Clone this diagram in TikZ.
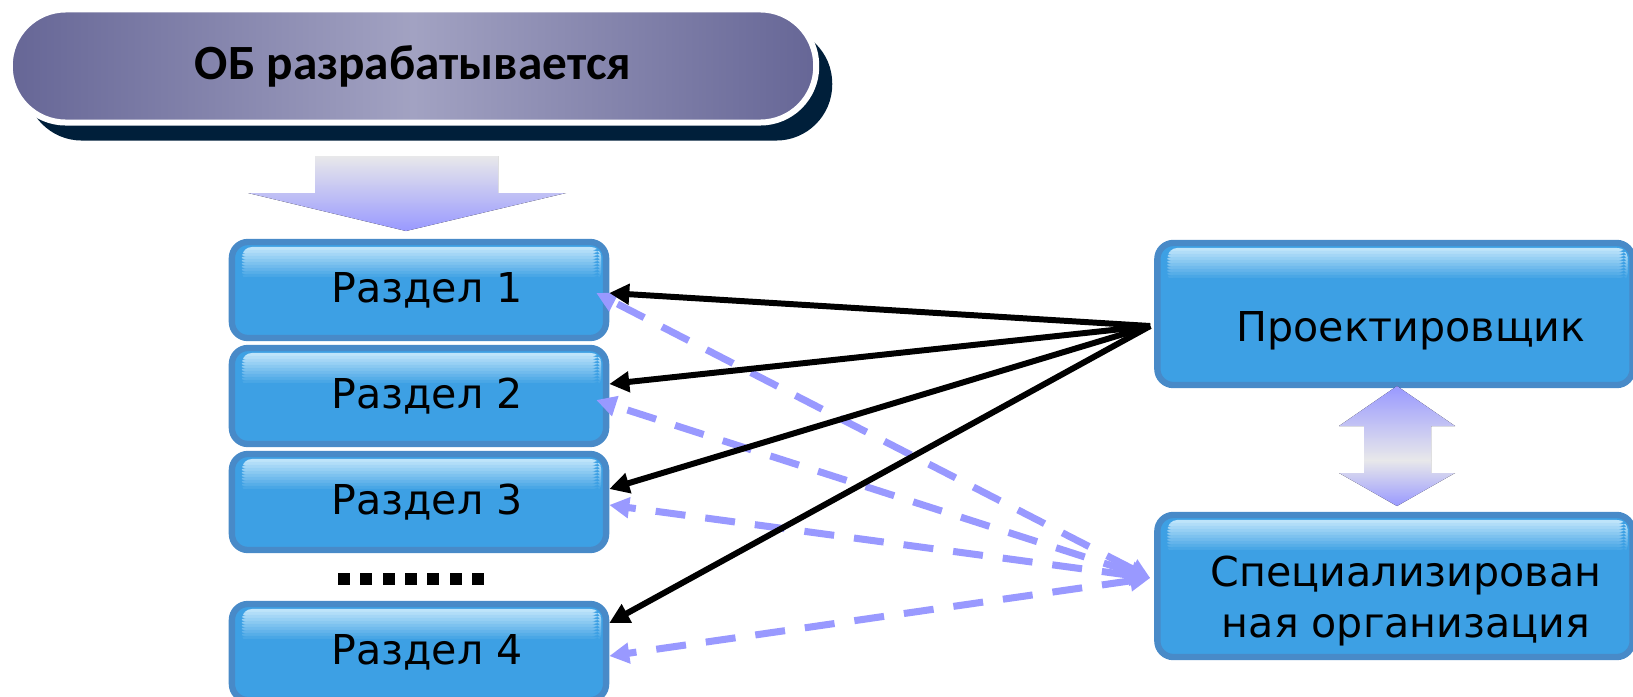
\documentclass[tikz,border=0pt]{standalone}
\usepackage{fontspec}
\setmainfont{DejaVu Sans}
\newfontfamily\titlefont{Carlito}
\usetikzlibrary{arrows.meta}
\usetikzlibrary{shadows}

\definecolor{boxblue}{RGB}{61,160,228}
\definecolor{boxedge}{RGB}{72,138,200}
\definecolor{boxlight}{RGB}{190,228,250}
\definecolor{lavender}{RGB}{153,153,255}
\definecolor{arrowgray}{RGB}{232,232,234}
\definecolor{pillside}{RGB}{102,102,150}
\definecolor{pillmid}{RGB}{162,162,194}
\definecolor{navy}{RGB}{0,31,58}

\begin{document}
\begin{tikzpicture}[x=0.01cm,y=-0.01cm,
    bluebox/.style={draw=boxedge,line width=1.8pt,fill=boxblue,rounded corners=0.16cm,
        font=\fontsize{11.7}{14.5}\selectfont,
        path picture={
            % glossy band at the top, fading into the box colour
            \begin{scope}
                \clip[rounded corners=0.1cm]
                    ([xshift=0.1cm,yshift=-0.05cm]path picture bounding box.north west) rectangle
                    ([xshift=-0.05cm,yshift=-0.4cm]path picture bounding box.north east);
                \foreach \k in {0,...,10}
                    \fill[boxblue!\k0!boxlight]
                        ([yshift={-0.05cm-\k*0.03cm}]path picture bounding box.north west) rectangle
                        ([yshift={-0.085cm-\k*0.03cm}]path picture bounding box.north east);
            \end{scope}
        }},
    razdel/.style={bluebox,minimum width=3.74cm,minimum height=0.96cm},
    actor/.style={bluebox,minimum width=4.75cm,minimum height=1.42cm},
    label/.style={font=\fontsize{11.7}{14.5}\selectfont,align=center},
    solidarrow/.style={-{Triangle[length=0.2cm,width=0.2cm]},line width=1.7pt},
    dasharrow/.style={{Triangle[length=0.2cm,width=0.2cm]}-{Triangle[length=0.2cm,width=0.2cm]},
        lavender,line width=2pt,dash pattern=on 0.3cm off 0.2cm}]

    \useasboundingbox (0,0) rectangle (1633,697);

    % title pill with dark shadow
    \node[draw=white,line width=0.06cm,rounded corners=0.56cm,
          minimum width=8.06cm,minimum height=1.13cm,
          left color=pillside,right color=pillside,middle color=pillmid,
          drop shadow={shadow xshift=0.16cm,shadow yshift=-0.18cm,fill=navy,opacity=1},
          font=\titlefont\bfseries\fontsize{14}{17}\selectfont]
        (title) at (413,66) {ОБ разрабатывается};

    % big arrow below the title
    \fill[top color=arrowgray,bottom color=lavender]
        (315,156) -- (498,156) -- (498,193) -- (566,193) -- (406,231)
        -- (248,193) -- (315,193) -- cycle;

    % sections
    \node[razdel] (r1) at (419,290) {\hspace*{0.16cm}Раздел 1};
    \node[razdel] (r2) at (419,396) {\hspace*{0.16cm}Раздел 2};
    \node[razdel] (r3) at (419,502) {\hspace*{0.16cm}Раздел 3};
    \node[razdel] (r4) at (419,652) {\hspace*{0.16cm}Раздел 4};

    % dots
    \foreach \i in {0,...,6}
        \fill (338+\i*22.3,573) rectangle +(12,12);

    % right boxes
    \node[actor] (proj) at (1395,314) {};
    \node[label] (projtext) at ([xshift=0.16cm,yshift=-0.17cm]proj.center) {Проектировщик};
    \node[actor] (spec) at (1395,586) {};
    \node[label] (spectext) at ([xshift=0.11cm,yshift=-0.15cm]spec.center) {Специализирован\\ная организация};

    % double arrow between the right boxes
    \fill[top color=lavender,bottom color=arrowgray]
        (1397,386) -- (1455,426) -- (1431,426) -- (1431,460)
        -- (1364,460) -- (1364,426) -- (1339,426) -- cycle;
    \fill[top color=arrowgray,bottom color=lavender]
        (1364,460) -- (1431,460) -- (1431,473) -- (1455,473)
        -- (1397,506) -- (1339,473) -- (1364,473) -- cycle;

    % dashed arrows
    \draw[dasharrow] ([xshift=-0.04cm,yshift=0.08cm]spec.west) -- ([xshift=-0.13cm,yshift=-0.03cm]r1.east);
    \draw[dasharrow] ([xshift=-0.04cm,yshift=0.08cm]spec.west) -- ([xshift=-0.13cm,yshift=-0.04cm]r2.east);
    \draw[dasharrow] ([xshift=-0.04cm,yshift=0.08cm]spec.west) -- ([yshift=-0.03cm]r3.east);
    \draw[dasharrow] ([xshift=-0.04cm,yshift=0.08cm]spec.west) -- ([yshift=-0.04cm]r4.east);

    % solid arrows
    \draw[solidarrow] ([xshift=-0.04cm,yshift=-0.12cm]proj.west) -- ([yshift=-0.03cm]r1.east);
    \draw[solidarrow] ([xshift=-0.04cm,yshift=-0.12cm]proj.west) -- ([yshift=0.12cm]r2.east);
    \draw[solidarrow] ([xshift=-0.04cm,yshift=-0.12cm]proj.west) -- ([yshift=0.13cm]r3.east);
    \draw[solidarrow] ([xshift=-0.04cm,yshift=-0.12cm]proj.west) -- ([yshift=0.29cm]r4.east);

\end{tikzpicture}
\end{document}
